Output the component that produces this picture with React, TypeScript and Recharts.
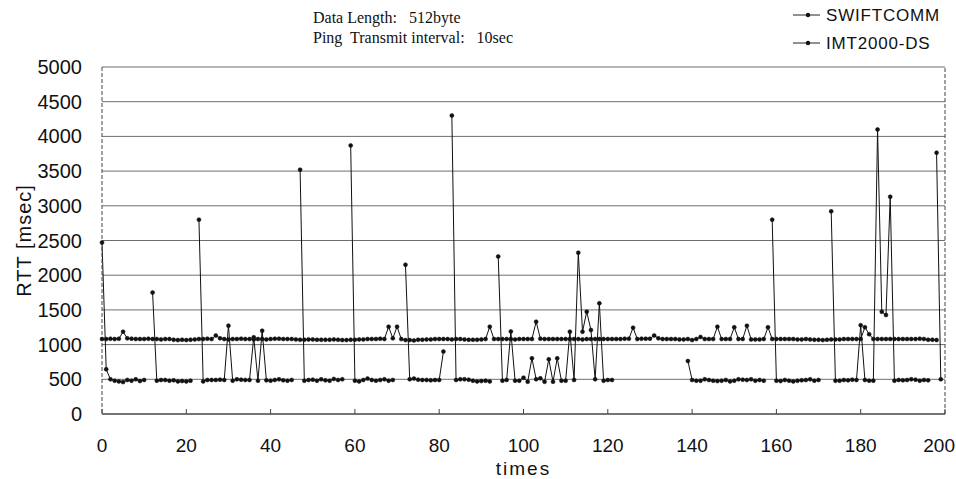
import { LineChart, Line, XAxis, YAxis, CartesianGrid, ReferenceLine } from 'recharts'

// RTT samples, one per ping (index = times)
const swiftcomm = [
  1080, 1080, 1085, 1080, 1085, 1186, 1090, 1085, 1080, 1080,
  1080, 1085, 1080, 1080, 1075, 1080, 1080, 1070, 1065, 1070,
  1065, 1070, 1075, 1080, 1080, 1085, 1080, 1130, 1090, 1080,
  1075, 1080, 1080, 1085, 1080, 1080, 1075, 1080, 1080, 1075,
  1080, 1085, 1085, 1080, 1080, 1080, 1075, 1070, 1070, 1075,
  1075, 1070, 1070, 1070, 1070, 1075, 1070, 1065, 1065, 1070,
  1070, 1075, 1075, 1080, 1080, 1080, 1085, 1080, 1258, 1090,
  1258, 1080, 1065, 1065, 1060, 1070, 1070, 1075, 1075, 1080,
  1080, 1080, 1080, 1075, 1080, 1080, 1075, 1070, 1070, 1070,
  1075, 1080, 1258, 1080, 1080, 1080, 1080, 1080, 1075, 1080,
  1080, 1080, 1080, 1330, 1085, 1080, 1080, 1080, 1080, 1080,
  1080, 1080, 1080, 1080, 1075, 1080, 1080, 1080, 1080, 1080,
  1080, 1080, 1080, 1080, 1085, 1085, 1244, 1080, 1085, 1085,
  1085, 1130, 1090, 1080, 1080, 1080, 1080, 1075, 1075, 1080,
  1065, 1080, 1110, 1080, 1080, 1080, 1258, 1080, 1080, 1080,
  1250, 1080, 1080, 1272, 1075, 1075, 1075, 1080, 1250, 1080,
  1080, 1080, 1080, 1080, 1080, 1075, 1075, 1080, 1075, 1070,
  1070, 1065, 1070, 1075, 1075, 1075, 1080, 1080, 1080, 1080,
  1080, 1250, 1150, 1080, 1080, 1080, 1080, 1080, 1080, 1080,
  1080, 1080, 1080, 1080, 1085, 1080, 1070, 1070, 1065, null,
]

const imt2000 = [
  2470, 644, 500, 480, 470, 460, 490, 480, 500, 475,
  490, null, 1750, 480, 490, 490, 480, 485, 470, 475,
  470, 480, null, 2800, 470, 490, 490, 490, 495, 490,
  1273, 480, 500, 495, 490, 490, 1105, 480, 1200, 485,
  480, 490, 500, 485, 480, 490, null, 3520, 480, 490,
  495, 480, 500, 485, 480, 505, 490, 500, null, 3870,
  480, 470, 490, 510, 490, 480, 490, 500, 480, 490,
  null, null, 2150, 500, 510, 495, 490, 490, 485, 490,
  490, 900, null, 4300, 490, 500, 500, 495, 480, 470,
  475, 480, 470, null, 2270, 480, 490, 1190, 480, 480,
  523, 465, 802, 500, 514, 465, 788, 465, 802, 480,
  480, 1186, 490, 2324, 1186, 1474, 1210, 500, 1595, 480,
  490, 490, null, null, null, null, null, null, null, null,
  null, null, null, null, null, null, null, null, null, 764,
  490, 480, 480, 500, 490, 480, 475, 480, 490, 470,
  480, 500, 495, 490, 500, 480, 490, 480, null, 2800,
  480, 475, 490, 480, 470, 480, 485, 490, 500, 480,
  490, null, null, 2920, 480, 480, 490, 485, 495, 490,
  1280, 490, 480, 480, 4100, 1474, 1426, 3131, 480, 490,
  485, 490, 500, 495, 480, 490, 485, null, 3765, 500,
]

const times = swiftcomm.map((_, i) => i)
const xTicks = [0, 20, 40, 60, 80, 100, 120, 140, 160, 180, 200]
const yTicks = [0, 500, 1000, 1500, 2000, 2500, 3000, 3500, 4000, 4500, 5000]
const seriesNames = ['SWIFTCOMM', 'IMT2000-DS']

const data = times.map((t, i) => ({ t, swift: swiftcomm[i], imt: imt2000[i] }))

const axisFont = '"Liberation Sans", Arial, sans-serif'

const XTick = ({ x, y, payload }: any) => {
  // the last label sits on the page edge; keep it inside
  const last = payload.value === xTicks[xTicks.length - 1]
  return (
    <g>
      <line x1={x} x2={x} y1={y} y2={y - 5} stroke="#444" />
      <text x={last ? x + 10 : x} y={y + 38} textAnchor={last ? 'end' : 'middle'} fontFamily={axisFont} fontSize={19} fill="#111">
        {payload.value}
      </text>
    </g>
  )
}

const YTick = ({ x, y, payload }: any) => (
  <text x={x - 20} y={y} dy="0.35em" textAnchor="end" fontFamily={axisFont} fontSize={20} fill="#111">
    {payload.value}
  </text>
)

const LegendBox = () => (
  <svg width={170} height={60} style={{ position: 'absolute', left: 790, top: 0 }}>
    {seriesNames.map((name, i) => (
      <g key={name}>
        <line x1={3} x2={30} y1={15 + i * 28} y2={15 + i * 28} stroke="#222" />
        <circle cx={18} cy={15 + i * 28} r={2.2} fill="#111" />
        <text x={36} y={15 + i * 28} dy="0.35em" fontFamily={axisFont} fontSize={17} letterSpacing={0.8} fill="#111">
          {name}
        </text>
      </g>
    ))}
  </svg>
)

export default function App() {
  return (
    <div style={{ position: 'absolute', left: 0, top: 0, width: 956, height: 479, background: '#fff' }}>
      <div style={{ position: 'absolute', left: 313, top: 8, fontFamily: '"Liberation Serif", "Times New Roman", serif', fontSize: 16, lineHeight: '20px', color: '#111', whiteSpace: 'pre' }}>
        <div>{'Data Length:   512byte'}</div>
        <div>{'Ping  Transmit interval:   10sec'}</div>
      </div>
      <LegendBox />
      <LineChart width={956} height={479} data={data} margin={{ top: 67, right: 11, bottom: 0, left: 0 }}>
        <CartesianGrid vertical={false} stroke="#6e6e6e" />
        <XAxis
          type="number"
          dataKey="t"
          domain={[0, 200]}
          ticks={xTicks}
          interval={0}
          height={65}
          tickSize={0}
          tickMargin={0}
          tickLine={false}
          axisLine={{ stroke: '#333' }}
          tick={<XTick />}
          label={{ value: 'times', position: 'insideBottom', offset: 4, fontFamily: axisFont, fontSize: 19, fill: '#111', letterSpacing: 2 }}
        />
        <YAxis
          type="number"
          domain={[0, 5000]}
          ticks={yTicks}
          interval={0}
          width={102}
          tickSize={0}
          tickMargin={0}
          tickLine={false}
          axisLine={{ stroke: '#444', strokeDasharray: '4 2' }}
          tick={<YTick />}
          label={{ value: 'RTT  [msec]', angle: -90, position: 'insideLeft', offset: 24, fontFamily: axisFont, fontSize: 20, fill: '#111', letterSpacing: 1, style: { textAnchor: 'middle' } }}
        />
        <ReferenceLine x={200} stroke="#444" strokeDasharray="4 2" />
        <Line
          type="linear"
          dataKey="swift"
          name={seriesNames[0]}
          stroke="#111"
          strokeWidth={1}
          dot={{ r: 2, fill: '#111', stroke: '#111', strokeWidth: 0.5 }}
          isAnimationActive={false}
        />
        <Line
          type="linear"
          dataKey="imt"
          name={seriesNames[1]}
          stroke="#111"
          strokeWidth={1}
          dot={{ r: 2, fill: '#111', stroke: '#111', strokeWidth: 0.5 }}
          isAnimationActive={false}
        />
      </LineChart>
    </div>
  )
}
